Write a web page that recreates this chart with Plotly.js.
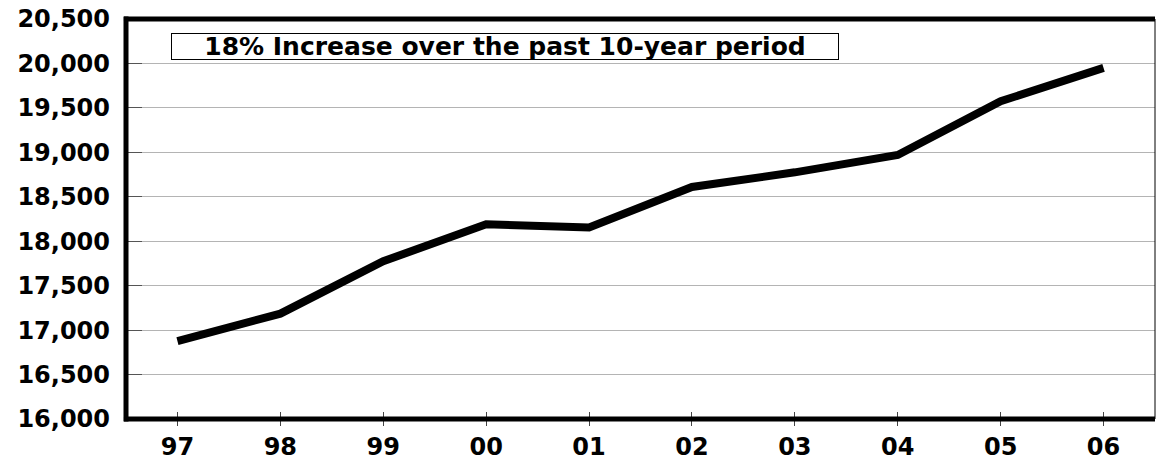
<!DOCTYPE html>
<html>
<head>
<meta charset="utf-8">
<script src="https://cdn.plot.ly/plotly-3.0.1.min.js"></script>
<style>html,body{margin:0;padding:0;background:#fff;}#chart{width:1156px;height:461px;}</style>
</head>
<body>
<div id="chart"></div>
<script>
const years = ["97", "98", "99", "00", "01", "02", "03", "04", "05", "06"];
const values = [16875, 17185, 17775, 18190, 18155, 18610, 18775, 18970, 19575, 19950];
const yTicks = [16000, 16500, 17000, 17500, 18000, 18500, 19000, 19500, 20000, 20500];
const noteText = "18% Increase over the past 10-year period";

const fam = "DejaVu Sans, Arial, sans-serif";

const data = [{
  x: years, y: values, type: "scatter", mode: "lines",
  line: {color: "#000", width: 8}, hoverinfo: "skip", xaxis: "x", yaxis: "y"
}, {
  x: years, y: values, type: "scatter", mode: "none", showlegend: false,
  hoverinfo: "skip", xaxis: "x2", yaxis: "y"
}];

const layout = {
  width: 1156, height: 461,
  margin: {l: 126, r: 1, t: 19, b: 42},
  paper_bgcolor: "#fff", plot_bgcolor: "#fff",
  showlegend: false,
  xaxis: {
    type: "category", range: [-0.5, 9.5], showgrid: false, zeroline: false,
    showline: false, ticks: "outside", ticklen: 6, tickwidth: 1, tickcolor: "#444",
    tickfont: {family: fam, size: 24, color: "#000", weight: "bold"},
    ticklabelstandoff: 0
  },
  xaxis2: {
    type: "category", range: [-0.5, 9.5], overlaying: "x", side: "bottom",
    showgrid: false, zeroline: false, showline: false, ticks: "inside", ticklen: 7,
    tickwidth: 1, tickcolor: "#444", showticklabels: false
  },
  yaxis: {
    range: [16000, 20500], tickvals: yTicks, tickformat: ",d",
    showgrid: true, gridcolor: "#b4b4b4", gridwidth: 1, zeroline: false,
    showline: false, ticks: "inside", ticklen: 16, tickwidth: 1, tickcolor: "#555",
    tickfont: {family: fam, size: 24, color: "#000", weight: "bold"},
    ticklabelstandoff: 15
  },
  shapes: [
    {type: "line", xref: "paper", yref: "paper", x0: 0, x1: 0, y0: -0.006, y1: 1.006, line: {color: "#000", width: 5}},
    {type: "line", xref: "paper", yref: "paper", x0: -0.002, x1: 1, y0: 0, y1: 0, line: {color: "#000", width: 5}},
    {type: "line", xref: "paper", yref: "paper", x0: -0.002, x1: 1, y0: 1, y1: 1, line: {color: "#000", width: 5}},
    {type: "line", xref: "paper", yref: "paper", x0: 1, x1: 1, y0: 0, y1: 1, line: {color: "#000", width: 1}}
  ],
  annotations: [{
    xref: "paper", yref: "paper", x: 0.368, y: 0.931, xanchor: "center", yanchor: "middle",
    text: noteText, showarrow: false, width: 666, height: 25, align: "center",
    bordercolor: "#000", borderwidth: 1, borderpad: 0, bgcolor: "#fff",
    font: {family: fam, size: 25, color: "#000", weight: "bold"}
  }]
};

Plotly.newPlot("chart", data, layout, {staticPlot: true, displayModeBar: false});
</script>
</body>
</html>
